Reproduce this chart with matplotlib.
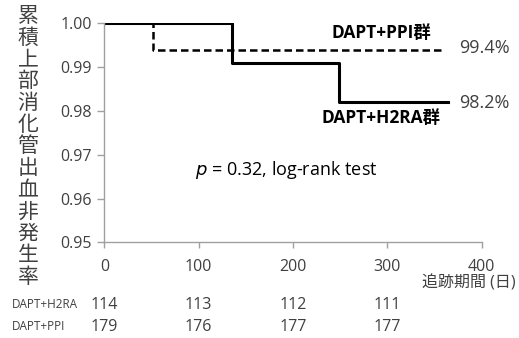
import matplotlib
matplotlib.use("Agg")
import matplotlib.pyplot as plt
import matplotlib.transforms as mtransforms

plt.rcParams['font.family'] = ['Open Sans', 'Noto Sans CJK JP', 'DejaVu Sans']

# Kaplan-Meier curves
h2ra_t = [0, 135, 249, 364]
h2ra_s = [1.000, 0.991, 0.982, 0.982]
ppi_t = [0, 52, 361]
ppi_s = [1.000, 0.994, 0.994]

# risk table
risk_times = [0, 100, 200, 300]
h2ra_risk = [114, 113, 112, 111]
ppi_risk = [179, 176, 177, 177]

gray = '#404040'

fig = plt.figure(figsize=(5.19, 3.38), dpi=100)
ax = fig.add_axes([0.201, 0.283, 0.727, 0.648])

ax.plot(h2ra_t, h2ra_s, color='black', lw=2.2, drawstyle='steps-post')
ax.plot(ppi_t, ppi_s, color='black', lw=1.8, ls=(0, (3, 1.6)), drawstyle='steps-post')

ax.set_xlim(0, 400)
ax.set_ylim(0.95, 1.00)
ax.set_xticks([0, 100, 200, 300, 400])
ax.set_yticks([0.95, 0.96, 0.97, 0.98, 0.99, 1.00])
ax.set_yticklabels([f"{v:.2f}" for v in ax.get_yticks()])
ax.tick_params(axis='x', length=4, width=1, color='#a0a0a0', pad=8, labelsize=11.5, labelcolor=gray)
ax.tick_params(axis='y', length=5, width=1, color='#a0a0a0', pad=4, labelsize=11.5, labelcolor=gray)
for s in ['top', 'right']:
    ax.spines[s].set_visible(False)
for s in ['left', 'bottom']:
    ax.spines[s].set_color('#a0a0a0')
    ax.spines[s].set_linewidth(1)

# curve annotations
ax.text(294, 0.9978, "DAPT+PPI群", ha='center', va='center', fontsize=12.5, fontweight='bold', color='black')
ax.text(293, 0.9784, "DAPT+H2RA群", ha='center', va='center', fontsize=12.5, fontweight='bold', color='black')
ax.text(376, 0.9943, "99.4%", ha='left', va='center', fontsize=13, color=gray)
ax.text(376, 0.9818, "98.2%", ha='left', va='center', fontsize=13, color=gray)
ax.text(96, 0.9665, "$p$ = 0.32, log-rank test", ha='left', va='center', fontsize=13, color='black')

# vertical y-axis title
ytitle = "累積上部消化管出血非発生率"
fig.text(28 / 519, 1 - 147 / 338, "\n".join(ytitle), ha='center', va='center',
         fontsize=15, color=gray, linespacing=1.05)

# x-axis title
fig.text(516 / 519, 1 - 283 / 338, "追跡期間 (日)", ha='right', va='center', fontsize=11.5, color=gray)

# numbers at risk
trans = mtransforms.blended_transform_factory(ax.transData, fig.transFigure)
row_y = [1 - 305 / 338, 1 - 327 / 338]
fig.text(12 / 519, row_y[0], "DAPT+H2RA", ha='left', va='center', fontsize=8.5, color=gray)
fig.text(12 / 519, row_y[1], "DAPT+PPI", ha='left', va='center', fontsize=8.5, color=gray)
for t, a, b in zip(risk_times, h2ra_risk, ppi_risk):
    ax.text(t, row_y[0], str(a), transform=trans, ha='center', va='center', fontsize=11.5, color=gray)
    ax.text(t, row_y[1], str(b), transform=trans, ha='center', va='center', fontsize=11.5, color=gray)

fig.savefig("out.png", dpi=100)
